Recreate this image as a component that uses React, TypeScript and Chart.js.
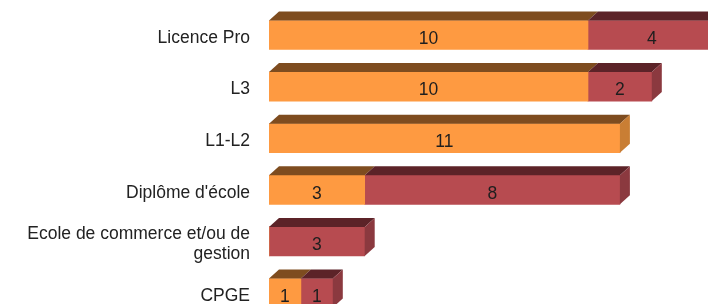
import { useEffect, useRef } from "react";
import { Chart, registerables } from "chart.js";

Chart.register(...registerables);

const categories: (string | string[])[] = [
  "Licence Pro",
  "L3",
  "L1-L2",
  "Diplôme d'école",
  ["Ecole de commerce et/ou de", "gestion"],
  "CPGE",
];
const seriesNames = ["Série 1", "Série 2"];
const seriesA = [10, 10, 11, 3, 0, 1];
const seriesB = [4, 2, 0, 8, 3, 1];

const frontColors = ["#FE9A41", "#B74B50"];
const topColors = ["#7E4C1F", "#5C2328"];
const sideColors = ["#C97E34", "#8B393F"];

const FONT = "'Liberation Sans', Arial, sans-serif";

const depthPlugin = {
  id: "depth3d",
  afterDatasetsDraw(chart: any) {
    const ctx = chart.ctx as CanvasRenderingContext2D;
    const dx = 10;
    const dy = 9;
    const n = chart.data.labels.length;
    const datasets = chart.data.datasets;
    const metas = datasets.map((_: any, i: number) => chart.getDatasetMeta(i));
    ctx.save();
    for (let j = 0; j < n; j++) {
      let last = -1;
      datasets.forEach((ds: any, i: number) => {
        if (ds.data[j] > 0) last = i;
      });
      datasets.forEach((ds: any, i: number) => {
        if (!(ds.data[j] > 0)) return;
        const el = metas[i].data[j];
        const left = Math.min(el.base, el.x);
        const right = Math.max(el.base, el.x);
        const top = el.y - el.height / 2;
        const bottom = el.y + el.height / 2;
        ctx.fillStyle = topColors[i];
        ctx.beginPath();
        ctx.moveTo(left, top);
        ctx.lineTo(left + dx, top - dy);
        ctx.lineTo(right + dx, top - dy);
        ctx.lineTo(right, top);
        ctx.closePath();
        ctx.fill();
        if (i === last) {
          ctx.fillStyle = sideColors[i];
          ctx.beginPath();
          ctx.moveTo(right, top);
          ctx.lineTo(right + dx, top - dy);
          ctx.lineTo(right + dx, bottom - dy);
          ctx.lineTo(right, bottom);
          ctx.closePath();
          ctx.fill();
        }
      });
    }
    ctx.fillStyle = "#1e1e1e";
    ctx.font = `17.5px ${FONT}`;
    ctx.textAlign = "center";
    ctx.textBaseline = "middle";
    datasets.forEach((ds: any, i: number) => {
      metas[i].data.forEach((el: any, j: number) => {
        const v = ds.data[j];
        if (!(v > 0)) return;
        ctx.fillText(String(v), (el.base + el.x) / 2, el.y + 4);
      });
    });
    ctx.restore();
  },
};

export default function App() {
  const ref = useRef<HTMLCanvasElement>(null);
  useEffect(() => {
    if (!ref.current) return;
    const chart = new Chart(ref.current, {
      type: "bar",
      data: {
        labels: categories,
        datasets: [
          {
            label: seriesNames[0],
            data: seriesA,
            backgroundColor: frontColors[0],
            borderWidth: 0,
            barThickness: 29,
          },
          {
            label: seriesNames[1],
            data: seriesB,
            backgroundColor: frontColors[1],
            borderWidth: 0,
            barThickness: 29,
          },
        ],
      },
      options: {
        indexAxis: "y",
        animation: false,
        responsive: false,
        maintainAspectRatio: false,
        devicePixelRatio: 1,
        layout: { padding: { left: 0, right: 20.6, top: 9.2, bottom: 11.2 } },
        plugins: { legend: { display: false }, tooltip: { enabled: false } },
        scales: {
          x: { display: false, stacked: true, min: 0, max: 16 },
          y: {
            stacked: true,
            grid: { display: false, drawTicks: false },
            border: { display: false },
            ticks: {
              autoSkip: false,
              color: "#222",
              padding: 19,
              labelOffset: 3,
              font: { family: FONT, size: 17.5, lineHeight: 1.15 },
            },
            afterFit: (s: any) => {
              s.width = 269;
              s.paddingTop = 0;
              s.paddingBottom = 0;
            },
          },
        },
      },
      plugins: [depthPlugin],
    } as any);
    return () => chart.destroy();
  }, []);
  return (
    <div
      style={{
        position: "fixed",
        left: 0,
        top: 0,
        width: 708,
        height: 304,
        overflow: "hidden",
        background: "#fff",
      }}
    >
      <canvas ref={ref} width={800} height={330} style={{ display: "block" }} />
    </div>
  );
}
